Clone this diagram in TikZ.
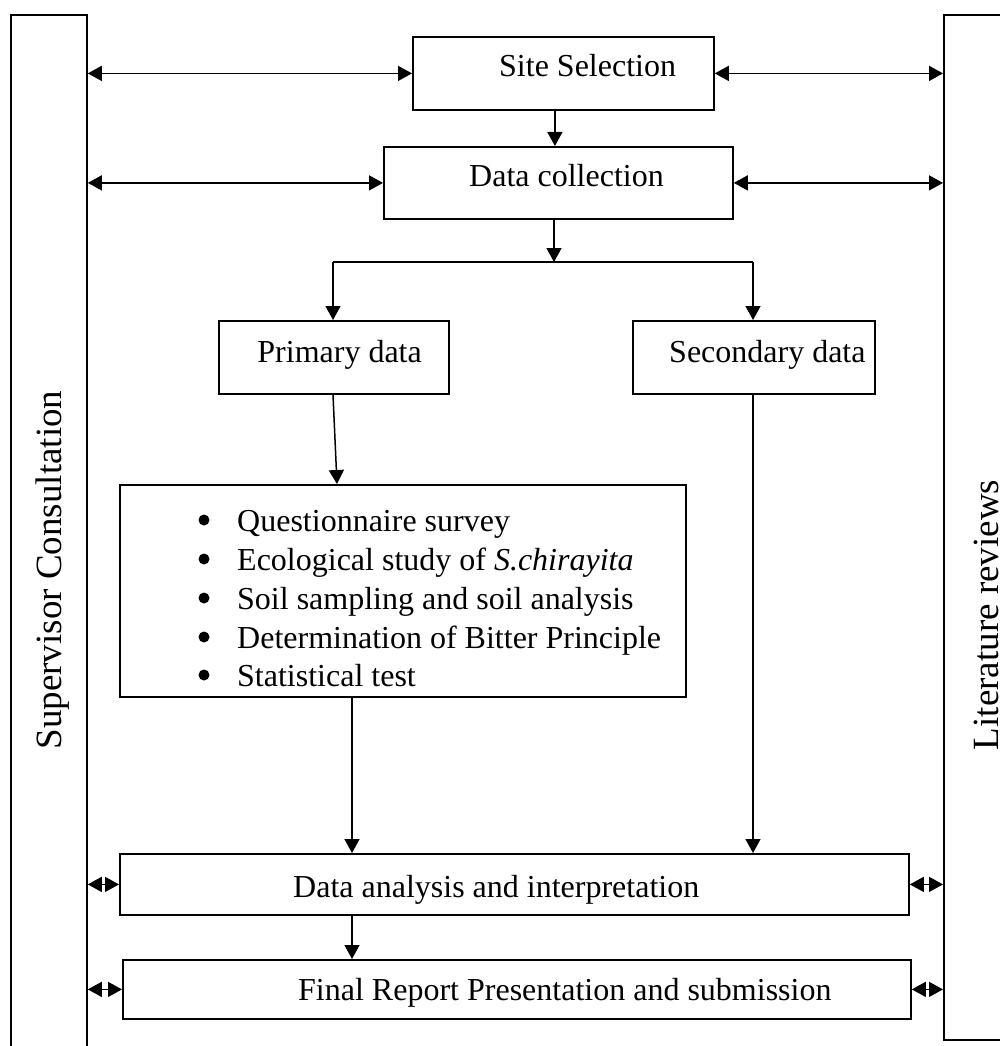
\documentclass[tikz,border=0pt]{standalone}
\usepackage{fontspec}
\setmainfont{Liberation Serif}
\usetikzlibrary{arrows.meta}
\begin{document}
\begin{tikzpicture}[x=1pt,y=-1pt,
 box/.style={draw, line width=1.8pt, inner sep=0pt, anchor=north west},
 txt/.style={inner sep=0pt, font=\fontsize{32}{38}\selectfont},
 side/.style={inner sep=0pt, font=\fontsize{37}{44}\selectfont, rotate=90, anchor=base},
 arr/.style={line width=1.5pt, -{Triangle[length=14pt,width=15pt]}},
 darr/.style={line width=1.5pt, {Triangle[length=14pt,width=15pt]}-{Triangle[length=14pt,width=15pt]}},
 plain/.style={line width=1.5pt},
 dot/.style={fill=black},
]
\useasboundingbox (0,0) rectangle (1000,1046);
\begin{scope}
\clip (0,0) rectangle (1000,1046);
\node[box, minimum width=76pt, minimum height=1060pt] (sup) at (10,14) {};
\node[box, minimum width=100pt, minimum height=1025pt] (lit) at (943,14) {};
\node[side] (tsup) at (61.5,570) {Supervisor Consultation};
\node[side] (tlit) at (998,615) {Literature reviews};
\end{scope}

\node[box, minimum width=301pt, minimum height=73pt] (site) at (412,36) {};
\node[box, minimum width=349pt, minimum height=72pt] (dc) at (383,146) {};
\node[box, minimum width=230pt, minimum height=73pt] (prim) at (218,320) {};
\node[box, minimum width=242pt, minimum height=73pt] (sec) at (632,320) {};
\node[box, minimum width=566pt, minimum height=212pt] (bul) at (119,484) {};
\node[box, minimum width=789pt, minimum height=61pt] (ana) at (119,853) {};
\node[box, minimum width=788pt, minimum height=59pt] (fin) at (122,959) {};

\node[txt, anchor=base west] (tsite) at (499,77) {Site Selection};
\node[txt, anchor=base west] (tdc) at (469,186) {Data collection};
\node[txt, anchor=base east] (tprim) at (422,362) {Primary data};
\node[txt, anchor=base west] (tsec) at (669,362) {Secondary data};
\node[txt, anchor=base west] (b1) at (237,531) {Questionnaire survey};
\node[txt, anchor=base west] (b2) at (237,570) {Ecological study of \textit{S.chirayita}};
\node[txt, anchor=base west] (b3) at (237,609) {Soil sampling and soil analysis};
\node[txt, anchor=base west] (b4) at (237,648) {Determination of Bitter Principle};
\node[txt, anchor=base west] (b5) at (237,686) {Statistical test};
\foreach \y in {531,570,609,648,686}
  \fill[dot] (204,\y-11) circle (5.5pt);
\node[txt, anchor=base west] (tana) at (293,897) {Data analysis and interpretation};
\node[txt, anchor=base west] (tfin) at (298,1000) {Final Report Presentation and submission};

\coordinate (j) at (554,262);
\coordinate (jl) at (333,262);
\coordinate (jr) at (753,262);
\coordinate (cx) at (352,0);

\draw[arr] ([xshift=-8.5pt]site.south) -- ([xshift=-8.5pt]site.south |- dc.north);
\draw[arr] (dc.south -| j) -- (j);
\draw[plain] (jl) -- (jr);
\draw[arr] (jl) -- (jl |- prim.north);
\draw[arr] (jr) -- (jr |- sec.north);
\draw[arr] (prim.south -| jl) -- ([xshift=4pt]bul.north -| jl);
\draw[arr] (bul.south -| cx) -- (ana.north -| cx);
\draw[arr] (sec.south -| jr) -- (ana.north -| jr);
\draw[arr] (ana.south -| cx) -- (fin.north -| cx);

\draw[darr] (sup.east |- site.west) -- (site.west);
\draw[darr] (site.east) -- (site.east -| lit.west);
\draw[darr] (sup.east |- dc.west) -- (dc.west);
\draw[darr] (dc.east) -- (dc.east -| lit.west);
\draw[darr] (sup.east |- ana.west) -- (ana.west);
\draw[darr] (ana.east) -- (ana.east -| lit.west);
\draw[darr] (sup.east |- fin.west) -- (fin.west);
\draw[darr] (fin.east) -- (fin.east -| lit.west);
\end{tikzpicture}
\end{document}
